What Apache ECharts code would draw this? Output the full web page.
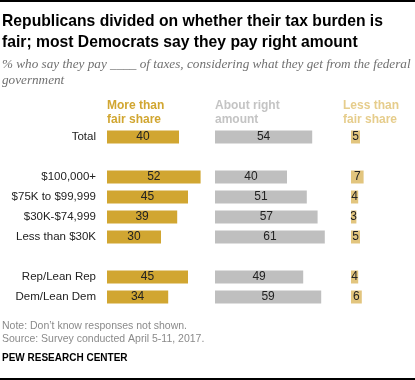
<!DOCTYPE html>
<html>
<head>
<meta charset="utf-8">
<script src="https://cdn.jsdelivr.net/npm/echarts@6/dist/echarts.min.js"></script>
<style>html,body{margin:0;padding:0;background:#fff;}#c{width:415px;height:380px;}</style>
</head>
<body>
<div id="c"></div>
<script>
const categories = ['Total', '', '$100,000+', '$75K to $99,999', '$30K-$74,999', 'Less than $30K', ' ', 'Rep/Lean Rep', 'Dem/Lean Dem'];
const moreThanFair = [40, '-', 52, 45, 39, 30, '-', 45, 34];
const aboutRight = [54, '-', 40, 51, 57, 61, '-', 49, 59];
const lessThanFair = [5, '-', 7, 4, 3, 5, '-', 4, 6];
const headers = [['More than', 'fair share'], ['About right', 'amount'], ['Less than', 'fair share']];

const chart = echarts.init(document.getElementById('c'), null, {renderer: 'canvas'});
const TOP = 127, H = 180, UNIT = 1.8;
const lefts = [107, 215, 351];
const maxes = [100, 100, 20];
const colors = ['#D1A631', '#BFBFBF', '#E2C57E'];
const headColors = ['#D1A631', '#C4C4C4', '#E6CD8C'];
const seriesData = [moreThanFair, aboutRight, lessThanFair];
const font = 'Liberation Sans, Arial, sans-serif';

const grids = [], xAxes = [], yAxes = [], series = [];
for (let i = 0; i < 3; i++) {
  grids.push({left: lefts[i], top: TOP, width: maxes[i] * UNIT, height: H, containLabel: false});
  xAxes.push({type: 'value', gridIndex: i, min: 0, max: maxes[i], show: false});
  yAxes.push({
    type: 'category', gridIndex: i, data: categories, inverse: true,
    axisLine: {show: false}, axisTick: {show: false}, splitLine: {show: false},
    axisLabel: {show: i === 0, margin: 11, color: '#222', fontSize: 11.5, fontFamily: font}
  });
  series.push({
    type: 'bar', xAxisIndex: i, yAxisIndex: i, data: seriesData[i], barWidth: 13,
    itemStyle: {color: colors[i]}, silent: true,
    label: {show: true, position: 'inside', color: '#222', fontSize: 12, fontFamily: font, formatter: '{c}'}
  });
}

const graphics = [
  {type: 'rect', shape: {x: 0, y: 0, width: 415, height: 2}, style: {fill: '#000'}},
  {type: 'rect', shape: {x: 0, y: 378, width: 415, height: 2}, style: {fill: '#000'}},
  {type: 'text', left: 2, top: 11, style: {text: 'Republicans divided on whether their tax burden is\nfair; most Democrats say they pay right amount', fill: '#000', font: 'bold 15.7px ' + font, lineHeight: 21}},
  {type: 'text', left: 2, top: 57, style: {text: '% who say they pay ____ of taxes, considering what they get from the federal\ngovernment', fill: '#707070', font: 'italic 13.2px "Liberation Serif", serif', lineHeight: 16}},
  {type: 'text', left: 2, top: 320, style: {text: "Note: Don\u2019t know responses not shown.\nSource: Survey conducted April 5-11, 2017.", fill: '#8a8a8a', font: '10.5px ' + font, lineHeight: 13}},
  {type: 'text', left: 2, top: 353, style: {text: 'PEW RESEARCH CENTER', fill: '#000', font: 'bold 10px ' + font}}
];
const headLefts = [107, 215, 343];
for (let i = 0; i < 3; i++) {
  graphics.push({type: 'text', left: headLefts[i], top: 99, style: {text: headers[i].join('\n'), fill: headColors[i], font: 'bold 12px ' + font, lineHeight: 14}});
}

chart.setOption({
  animation: false,
  grid: grids, xAxis: xAxes, yAxis: yAxes, series: series,
  graphic: graphics
});
</script>
</body>
</html>
